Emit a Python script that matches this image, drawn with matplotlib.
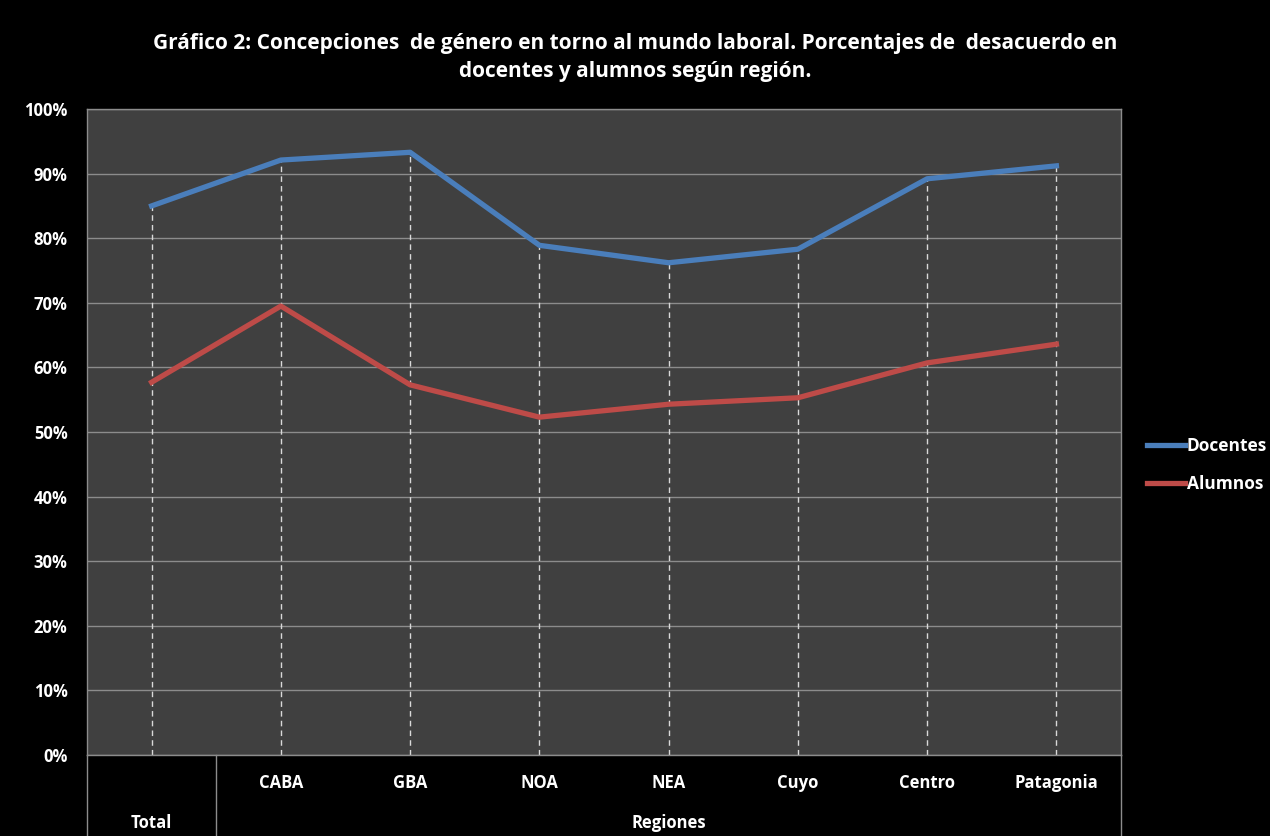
import matplotlib
matplotlib.use("Agg")
import matplotlib.pyplot as plt
import matplotlib.transforms as mtransforms

# data
categories = ["Total", "CABA", "GBA", "NOA", "NEA", "Cuyo", "Centro", "Patagonia"]
groups = ["Total", "Regiones"]
docentes = [85.0, 92.1, 93.3, 78.9, 76.2, 78.3, 89.2, 91.2]
alumnos = [57.7, 69.5, 57.3, 52.3, 54.3, 55.3, 60.7, 63.6]
yticks = [0, 10, 20, 30, 40, 50, 60, 70, 80, 90, 100]

plt.rcParams["font.family"] = ["Open Sans", "DejaVu Sans"]
plt.rcParams["font.weight"] = "bold"

fig = plt.figure(figsize=(12.7, 8.36), dpi=100, facecolor="black")
ax = fig.add_axes([0.0685, 0.0969, 0.8142, 0.7727])
ax.set_facecolor("#404040")

x = list(range(len(categories)))

# drop lines
ax.vlines(x, 0, docentes, colors="#d9d9d9", linestyles=(0, (4, 3)), linewidth=1, zorder=2)

ax.plot(x, docentes, color="#4a7ebb", linewidth=3.8, label="Docentes", zorder=3,
        solid_joinstyle="round")
ax.plot(x, alumnos, color="#be4b48", linewidth=3.8, label="Alumnos", zorder=3,
        solid_joinstyle="round")

ax.set_xlim(-0.5, len(categories) - 0.5)
ax.set_ylim(0, 100)
ax.set_yticks(yticks)
ax.set_yticklabels([f"{t}%" for t in yticks], color="white", fontsize=12, fontweight="bold")
ax.yaxis.grid(True, color="#8c8c8c", linewidth=1)
ax.set_axisbelow(True)
ax.tick_params(axis="y", length=0, pad=14)
ax.set_xticks([])
for s in ax.spines.values():
    s.set_color("#8c8c8c")
    s.set_linewidth(1)

# category table below the axis
trans = mtransforms.blended_transform_factory(ax.transData, ax.transAxes)
bottom = -0.126
for i, c in enumerate(categories[1:], start=1):
    ax.text(i, -0.044, c, transform=trans, color="white", fontsize=12,
            fontweight="bold", ha="center", va="center")
ax.text(0, -0.106, groups[0], transform=trans, color="white", fontsize=12,
        fontweight="bold", ha="center", va="center")
ax.text((1 + len(categories) - 1) / 2, -0.106, groups[1], transform=trans, color="white",
        fontsize=12, fontweight="bold", ha="center", va="center")
for xv in [-0.5, 0.5, len(categories) - 0.5]:
    ax.plot([xv, xv], [0, bottom], transform=trans, color="#8c8c8c", linewidth=1,
            clip_on=False)

fig.text(0.5, 0.931, "Gráfico 2: Concepciones  de género en torno al mundo laboral. Porcentajes de  desacuerdo en\ndocentes y alumnos según región.",
         ha="center", va="center", color="white", fontsize=15, fontweight="bold",
         linespacing=1.45)

leg = ax.legend(loc="center left", bbox_to_anchor=(1.01, 0.449), frameon=False,
                fontsize=12.5, handlelength=2.2, handletextpad=0.1, labelspacing=1.15)
for t in leg.get_texts():
    t.set_color("white")
    t.set_fontweight("bold")

fig.savefig("out.png", dpi=100, facecolor="black")
